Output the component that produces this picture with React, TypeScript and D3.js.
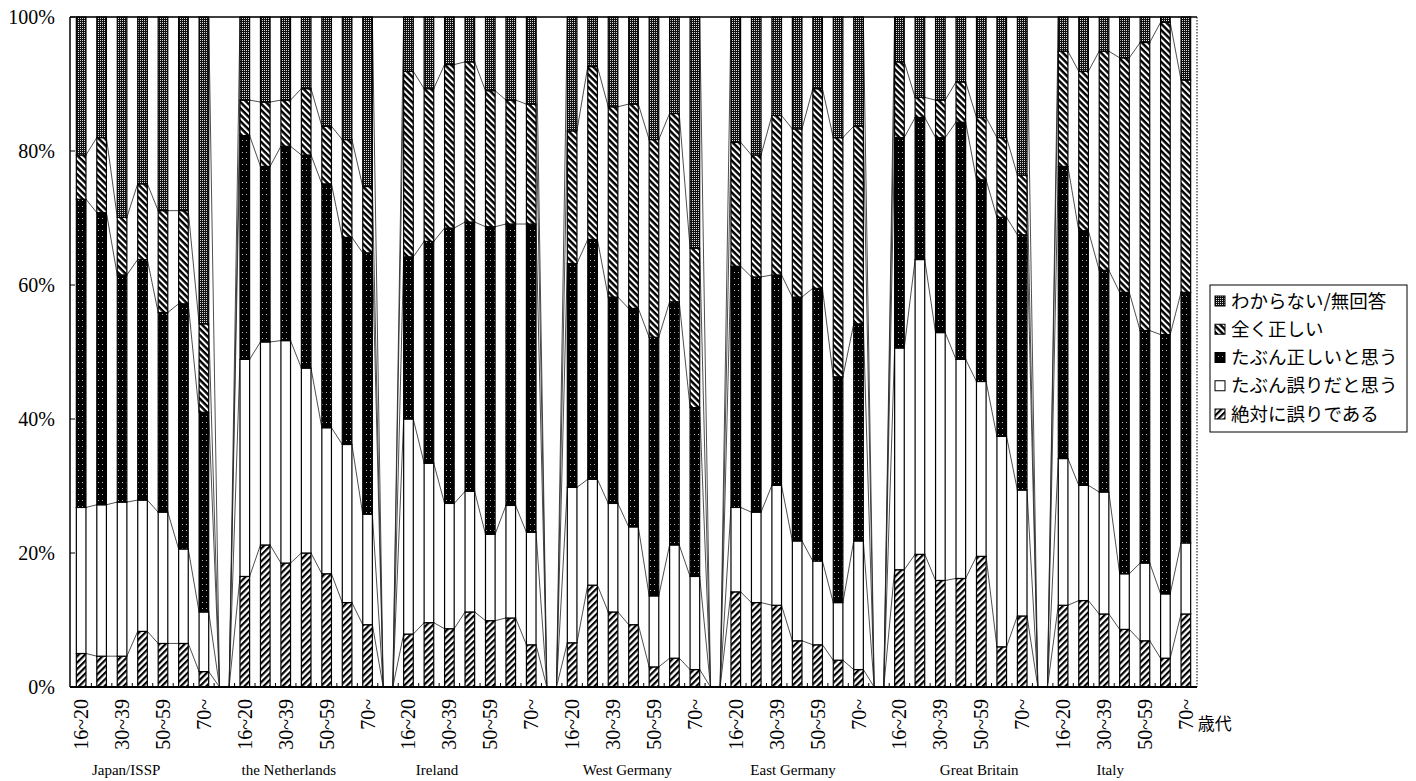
import React from "react";
import * as d3 from "d3";

// ---------- data (percent) ----------
const AGE_GROUPS = ["16~20", "21~29", "30~39", "40~49", "50~59", "60~69", "70~"];
const COUNTRIES = [
  "Japan/ISSP",
  "the Netherlands",
  "Ireland",
  "West Germany",
  "East Germany",
  "Great Britain",
  "Italy",
];
// stacking order: bottom -> top
const SERIES_NAMES = [
  "絶対に誤りである",
  "たぶん誤りだと思う",
  "たぶん正しいと思う",
  "全く正しい",
  "わからない/無回答",
];

const ABSOLUTELY_WRONG = [
  [5.0, 4.6, 4.6, 8.3, 6.5, 6.5, 2.3],
  [16.5, 21.2, 18.5, 20.0, 16.9, 12.6, 9.3],
  [7.9, 9.6, 8.7, 11.2, 9.9, 10.3, 6.3],
  [6.6, 15.2, 11.2, 9.3, 3.0, 4.3, 2.6],
  [14.2, 12.6, 12.2, 6.9, 6.3, 4.0, 2.6],
  [17.5, 19.8, 15.9, 16.2, 19.5, 6.0, 10.6],
  [12.2, 12.9, 10.9, 8.6, 6.9, 4.3, 10.9],
];
const PROBABLY_WRONG = [
  [21.8, 22.6, 23.0, 19.6, 19.6, 14.1, 8.9],
  [32.4, 30.3, 33.2, 27.6, 21.8, 23.6, 16.5],
  [32.1, 23.8, 18.7, 18.0, 12.9, 16.8, 16.8],
  [23.2, 15.8, 16.2, 14.6, 10.6, 16.9, 13.9],
  [12.6, 13.5, 17.9, 14.9, 12.5, 8.6, 19.2],
  [33.1, 44.0, 37.0, 32.7, 26.1, 31.4, 18.8],
  [21.9, 17.2, 18.2, 8.3, 11.6, 9.6, 10.6],
];
const PROBABLY_RIGHT = [
  [46.0, 43.6, 33.9, 35.9, 29.8, 36.6, 29.8],
  [33.4, 26.2, 29.0, 31.8, 36.4, 30.9, 39.0],
  [24.2, 33.1, 41.1, 40.2, 45.9, 42.0, 46.0],
  [33.4, 35.8, 30.8, 32.6, 38.6, 36.3, 25.2],
  [36.0, 35.1, 31.4, 36.4, 40.7, 33.7, 32.4],
  [31.4, 21.2, 29.1, 35.4, 30.1, 32.7, 38.1],
  [43.6, 38.0, 33.1, 42.0, 34.7, 38.7, 37.4],
];
const TOTALLY_RIGHT = [
  [6.6, 11.2, 8.6, 11.3, 15.2, 13.9, 13.2],
  [5.3, 9.6, 6.9, 9.9, 8.6, 14.6, 9.9],
  [27.7, 22.8, 24.4, 23.9, 20.3, 18.5, 17.9],
  [19.8, 25.8, 28.4, 30.5, 29.5, 28.1, 23.8],
  [18.5, 18.2, 23.8, 25.1, 29.8, 35.7, 29.5],
  [11.3, 3.0, 5.6, 6.0, 9.3, 11.9, 8.9],
  [17.2, 23.8, 32.7, 35.0, 43.0, 46.6, 31.7],
];
const DONT_KNOW = [
  [20.6, 18.0, 29.9, 24.9, 28.9, 28.9, 45.8],
  [12.4, 12.7, 12.4, 10.7, 16.3, 18.3, 25.3],
  [8.1, 10.7, 7.1, 6.7, 11.0, 12.4, 13.0],
  [17.0, 7.4, 13.4, 13.0, 18.3, 14.4, 34.5],
  [18.7, 20.6, 14.7, 16.7, 10.7, 18.0, 16.3],
  [6.7, 12.0, 12.4, 9.7, 15.0, 18.0, 23.6],
  [5.1, 8.1, 5.1, 6.1, 3.8, 0.8, 9.4],
];
const Y_TICKS = [0, 20, 40, 60, 80, 100];
const AGE_AXIS_TITLE = "歳代";

// ---------- layout / style ----------
const SERIES_TABLES = [ABSOLUTELY_WRONG, PROBABLY_WRONG, PROBABLY_RIGHT, TOTALLY_RIGHT, DONT_KNOW];
const KEYS = ["s0", "s1", "s2", "s3", "s4"];
const FILLS = ["url(#pAbs)", "#ffffff", "url(#pProbRight)", "url(#pTotRight)", "url(#pDk)"];
// horizontal shift of each country caption, in category steps from its first bar
const LABEL_SHIFT = [2.2, 2.15, 1.4, 2.7, 2.8, 3.9, 2.3];

const PLOT = { left: 70, right: 1197, top: 17, bottom: 687 };
const SERIF = "'Liberation Serif', 'DejaVu Serif', serif";
const CJK = "'Noto Sans CJK JP', 'Noto Sans', sans-serif";

type Row = { slot: string; gap: boolean; ci: number; ai: number; [k: string]: any };

const rows: Row[] = [];
COUNTRIES.forEach((c, ci) => {
  AGE_GROUPS.forEach((a, ai) => {
    const r: Row = { slot: `${ci}-${ai}`, gap: false, ci, ai };
    KEYS.forEach((k, si) => (r[k] = SERIES_TABLES[si][ci][ai]));
    rows.push(r);
  });
  if (ci < COUNTRIES.length - 1) {
    const g: Row = { slot: `gap-${ci}`, gap: true, ci, ai: -1 };
    KEYS.forEach((k) => (g[k] = 0));
    rows.push(g);
  }
});

export default function App() {
  const x = d3
    .scaleBand<string>()
    .domain(rows.map((r) => r.slot))
    .range([PLOT.left, PLOT.right])
    .paddingInner(0.53)
    .paddingOuter(0.31);
  const y = d3.scaleLinear().domain([0, 100]).range([PLOT.bottom, PLOT.top]);
  const bw = x.bandwidth();
  const step = x.step();

  const stacked = d3.stack<Row>().keys(KEYS)(rows);

  const seriesLines: JSX.Element[] = [];
  stacked.forEach((layer, li) => {
    for (let i = 0; i < rows.length - 1; i++) {
      const x1 = (x(rows[i].slot) as number) + bw;
      const x2 = x(rows[i + 1].slot) as number;
      seriesLines.push(
        <line
          key={`sl-${li}-${i}`}
          x1={x1}
          y1={y(layer[i][1])}
          x2={x2}
          y2={y(layer[i + 1][1])}
          stroke="#222"
          strokeWidth={0.8}
        />
      );
    }
  });

  const bars: JSX.Element[] = [];
  stacked.forEach((layer, li) => {
    layer.forEach((d, i) => {
      if (rows[i].gap) return;
      const y0 = y(d[0]);
      const y1 = y(d[1]);
      bars.push(
        <rect
          key={`b-${li}-${i}`}
          x={x(rows[i].slot)}
          y={y1}
          width={bw}
          height={Math.max(0, y0 - y1)}
          fill={FILLS[li]}
          stroke="#000"
          strokeWidth={1.2}
        />
      );
    });
  });

  // boundaries between categories (small ticks)
  const boundaryTicks = rows.slice(0, -1).map((r, i) => {
    const cx = (x(r.slot) as number) + bw / 2 + step / 2;
    return <line key={`bt-${i}`} x1={cx} x2={cx} y1={PLOT.bottom} y2={PLOT.bottom - 4} stroke="#000" strokeWidth={1} />;
  });

  const ageLabels = rows
    .filter((r) => !r.gap && r.ai % 2 === 0)
    .map((r) => {
      const cx = (x(r.slot) as number) + bw / 2;
      return (
        <text
          key={`al-${r.slot}`}
          transform={`translate(${cx},${PLOT.bottom + 12}) rotate(-90)`}
          textAnchor="end"
          dy="0.35em"
          fontFamily={SERIF}
          fontSize={20}
          fill="#000"
        >
          {AGE_GROUPS[r.ai]}
        </text>
      );
    });

  const countryLabels = COUNTRIES.map((c, ci) => {
    const first = x(`${ci}-0`) as number;
    const cx = first + bw / 2 + LABEL_SHIFT[ci] * step;
    return (
      <text key={`cl-${ci}`} x={cx} y={775} textAnchor="middle" fontFamily={SERIF} fontSize={15} fill="#000">
        {c}
      </text>
    );
  });

  const lastSlot = rows[rows.length - 1].slot;
  const lastX = (x(lastSlot) as number) + bw / 2;

  const legendOrder = [4, 3, 2, 1, 0];

  return (
    <div style={{ position: "absolute", left: 0, top: 0 }}>
      <svg width={1416} height={781} style={{ display: "block", background: "#fff" }}>
        <defs>
          <pattern id="pAbs" patternUnits="userSpaceOnUse" width={4.5} height={4.5} patternTransform="rotate(45)">
            <rect width={4.5} height={4.5} fill="#fff" />
            <rect width={2.2} height={4.5} fill="#000" />
          </pattern>
          <pattern id="pTotRight" patternUnits="userSpaceOnUse" width={4.5} height={4.5} patternTransform="rotate(-45)">
            <rect width={4.5} height={4.5} fill="#000" />
            <rect width={2} height={4.5} fill="#fff" />
          </pattern>
          <pattern id="pProbRight" patternUnits="userSpaceOnUse" width={4} height={6}>
            <rect width={4} height={6} fill="#000" />
            <rect x={2} y={2} width={1} height={1} fill="#bbb" />
          </pattern>
          <pattern id="pDk" patternUnits="userSpaceOnUse" width={2} height={2}>
            <rect width={2} height={2} fill="#111" />
            <rect x={0} y={0} width={1} height={1} fill="#d8d8d8" />
          </pattern>
        </defs>

        {/* frame */}
        <line x1={PLOT.left} x2={PLOT.right} y1={PLOT.top} y2={PLOT.top} stroke="#000" strokeWidth={1.5} />
        <line
          x1={PLOT.right}
          x2={PLOT.right}
          y1={PLOT.top}
          y2={PLOT.bottom}
          stroke="#000"
          strokeWidth={1}
          strokeDasharray="1.5,1.5"
        />

        {seriesLines}
        {bars}

        {/* axes */}
        <line x1={PLOT.left} x2={PLOT.left} y1={PLOT.top} y2={PLOT.bottom} stroke="#000" strokeWidth={1.5} />
        <line x1={PLOT.left} x2={PLOT.right} y1={PLOT.bottom} y2={PLOT.bottom} stroke="#000" strokeWidth={2} />
        {boundaryTicks}
        {Y_TICKS.map((t) => (
          <g key={`yt-${t}`}>
            <line x1={PLOT.left} x2={PLOT.left + 5} y1={y(t)} y2={y(t)} stroke="#000" strokeWidth={1} />
            <text x={55} y={y(t)} dy="0.35em" textAnchor="end" fontFamily={SERIF} fontSize={20} fill="#000">
              {`${t}%`}
            </text>
          </g>
        ))}

        {ageLabels}
        <text x={lastX + 12} y={724} dy="0.35em" fontFamily={CJK} fontSize={17} fill="#000">
          {AGE_AXIS_TITLE}
        </text>
        {countryLabels}

        {/* legend */}
        <g>
          <rect x={1210} y={285} width={197} height={147} fill="#fff" stroke="#000" strokeWidth={1} />
          {legendOrder.map((si, i) => {
            const cy = 301 + i * 28.25;
            return (
              <g key={`lg-${si}`}>
                <rect x={1215} y={cy - 5} width={10} height={10} fill={FILLS[si]} stroke="#000" strokeWidth={1} />
                <text x={1231} y={cy} dy="0.36em" fontFamily={CJK} fontSize={18.5} fill="#000">
                  {SERIES_NAMES[si]}
                </text>
              </g>
            );
          })}
        </g>
      </svg>
    </div>
  );
}
